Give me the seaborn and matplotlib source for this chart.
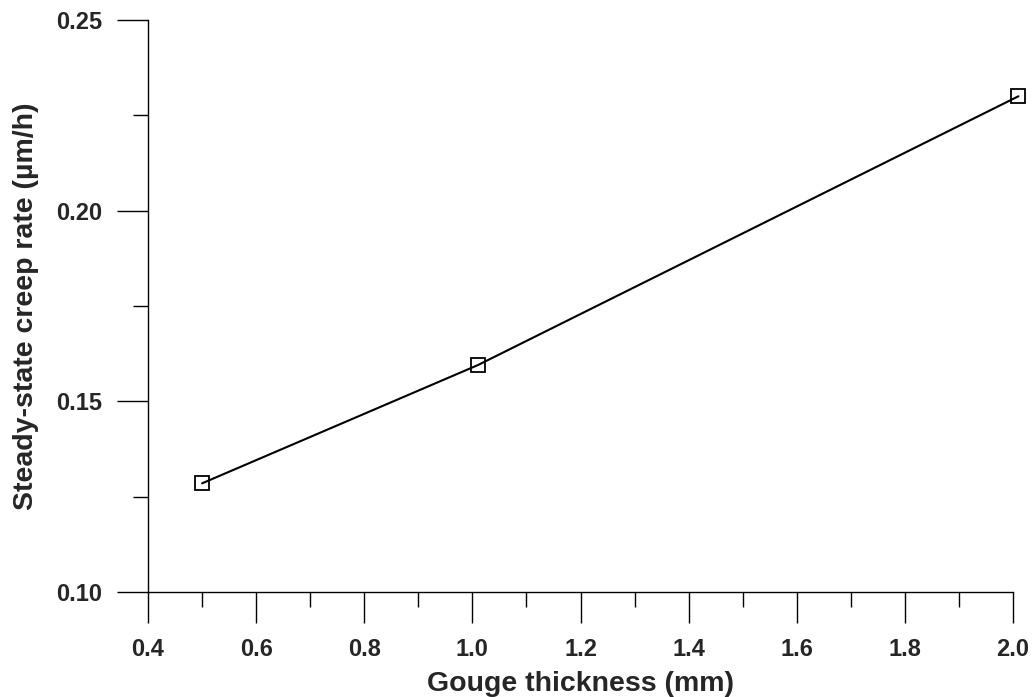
import matplotlib
matplotlib.use("Agg")
import matplotlib.pyplot as plt
import seaborn as sns
import pandas as pd
from matplotlib.ticker import MultipleLocator, FormatStrFormatter

thickness = [0.5, 1.01, 2.01]
creep_rate = [0.1285, 0.1595, 0.2300]

sns.set_style("ticks")
plt.rcParams['font.family'] = ['Liberation Sans', 'DejaVu Sans']
plt.rcParams['font.weight'] = 'bold'

df = pd.DataFrame({"x": thickness, "y": creep_rate})

fig = plt.figure(figsize=(10.32, 6.97), dpi=100)
ax = fig.add_axes([0.1434, 0.1506, 0.9816 - 0.1434, 0.9713 - 0.1506])

sns.lineplot(data=df, x="x", y="y", ax=ax, color="black", linewidth=1.5,
             marker="s", markersize=10, markerfacecolor="none",
             markeredgecolor="black", markeredgewidth=1.3, clip_on=False)

ax.set_xlim(0.4, 2.0)
ax.set_ylim(0.10, 0.25)
ax.xaxis.set_major_locator(MultipleLocator(0.2))
ax.xaxis.set_minor_locator(MultipleLocator(0.1))
ax.yaxis.set_major_locator(MultipleLocator(0.05))
ax.yaxis.set_minor_locator(MultipleLocator(0.025))
ax.xaxis.set_major_formatter(FormatStrFormatter('%.1f'))
ax.yaxis.set_major_formatter(FormatStrFormatter('%.2f'))

ax.tick_params(which='major', direction='out', length=22, width=1.0, color='black',
               labelsize=17, pad=11)
ax.tick_params(which='minor', direction='out', length=11, width=1.0, color='black')
for lbl in ax.get_xticklabels() + ax.get_yticklabels():
    lbl.set_fontweight('bold')

sns.despine(ax=ax)
for s in ['left', 'bottom']:
    ax.spines[s].set_color('black')
    ax.spines[s].set_linewidth(1.0)

ax.set_xlabel("Gouge thickness (mm)", fontsize=20.5, fontweight='bold', labelpad=7)
ax.set_ylabel("Steady-state creep rate (µm/h)", fontsize=20.5, fontweight='bold', labelpad=12)

fig.savefig("out.png", dpi=100)
